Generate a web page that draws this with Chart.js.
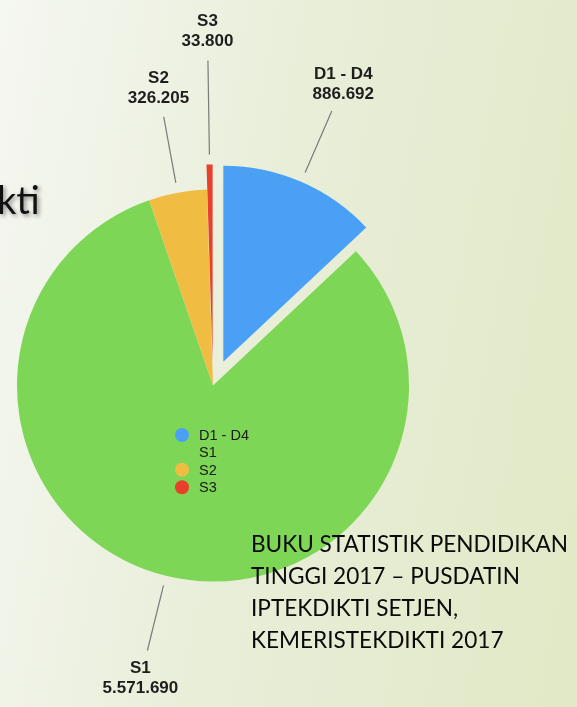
<!DOCTYPE html>
<html>
<head>
<meta charset="utf-8">
<script src="https://cdn.jsdelivr.net/npm/chart.js@4.4.1/dist/chart.umd.min.js"></script>
<style>
  html, body { margin: 0; padding: 0; }
  body {
    width: 577px; height: 707px; overflow: hidden; position: relative;
    background: linear-gradient(100deg, #f5f7f1 0%, #e9eed9 45%, #e1e9c6 100%);
  }
  #chart { position: absolute; left: 0; top: 0; }
  .title-cut {
    position: absolute; left: -3px; top: 180px;
    font: 38px Lato, sans-serif; line-height: 38px; color: #111;
    text-shadow: 2px 2px 4px rgba(0, 0, 0, 0.45);
  }
  .source {
    position: absolute; left: 251px; top: 528px;
    font: 22.6px Lato, sans-serif; line-height: 32px; color: #0a0a0a;
    white-space: nowrap;
  }
</style>
</head>
<body>
<canvas id="chart" width="577" height="707"></canvas>
<div class="title-cut">kti</div>
<div class="source">BUKU STATISTIK PENDIDIKAN<br>TINGGI 2017 – PUSDATIN<br>IPTEKDIKTI SETJEN,<br>KEMERISTEKDIKTI 2017</div>

<script>
// --- data: lulusan per jenjang ---
const LEVELS = ['D1 - D4', 'S1', 'S2', 'S3'];
const GRADUATES = [886692, 5571690, 326205, 33800];

// --- styling ---
const COLORS = ['#4aa0f5', '#7ed656', '#f0bd42', '#e8402b'];
const EXPLODE = [26, 0, 0, 25];      // px pulled out of the pie
const LABEL_PUSH = [0, 0, 0, 27];    // extra callout length so S3 clears S2

const fmt = v => String(v).replace(/\B(?=(\d{3})+(?!\d))/g, '.');

// shift exploded slices straight out along their mid angle
const explodePlugin = {
  id: 'explode',
  beforeDatasetDraw(chart, args) {
    args.meta.data.forEach((arc, i) => {
      if (arc._exploded || !EXPLODE[i]) return;
      const draw = arc.draw;
      arc.draw = function (ctx, area) {
        const mid = (this.startAngle + this.endAngle) / 2;
        ctx.save();
        ctx.translate(Math.cos(mid) * EXPLODE[i], Math.sin(mid) * EXPLODE[i]);
        draw.call(this, ctx, area);
        ctx.restore();
      };
      arc._exploded = true;
    });
  }
};

// leader lines + "name / value" labels outside each slice
const calloutPlugin = {
  id: 'callouts',
  afterDatasetsDraw(chart) {
    const ctx = chart.ctx;
    const meta = chart.getDatasetMeta(0);
    ctx.save();
    meta.data.forEach((arc, i) => {
      const { x, y, startAngle, endAngle, outerRadius } =
        arc.getProps(['x', 'y', 'startAngle', 'endAngle', 'outerRadius'], true);
      const mid = (startAngle + endAngle) / 2;
      const ux = Math.cos(mid), uy = Math.sin(mid);
      const cx = x + ux * EXPLODE[i], cy = y + uy * EXPLODE[i];
      const r0 = outerRadius + 10;
      const r1 = outerRadius + 77 + LABEL_PUSH[i];
      const r2 = outerRadius + 106 + LABEL_PUSH[i];

      ctx.strokeStyle = '#7a7a7a';
      ctx.lineWidth = 1.2;
      ctx.beginPath();
      ctx.moveTo(cx + ux * r0, cy + uy * r0);
      ctx.lineTo(cx + ux * r1, cy + uy * r1);
      ctx.stroke();

      const lx = cx + ux * r2, ly = cy + uy * r2;
      ctx.fillStyle = '#1e1e1e';
      ctx.font = 'bold 17px "Liberation Sans", Arial, sans-serif';
      ctx.textAlign = 'center';
      ctx.textBaseline = 'middle';
      ctx.fillText(LEVELS[i], lx, ly - 10);
      ctx.fillText(fmt(GRADUATES[i]), lx, ly + 10);
    });
    ctx.restore();
  }
};

// small legend drawn inside the pie
const innerLegendPlugin = {
  id: 'innerLegend',
  afterDatasetsDraw(chart) {
    const ctx = chart.ctx;
    const arc = chart.getDatasetMeta(0).data[0];
    const ox = arc.x - 31, oy = arc.y + 49.5;
    ctx.save();
    ctx.font = '14.5px "Liberation Sans", Arial, sans-serif';
    ctx.textAlign = 'left';
    ctx.textBaseline = 'middle';
    LEVELS.forEach((name, i) => {
      const yy = oy + i * 17.4;
      ctx.fillStyle = COLORS[i];
      ctx.beginPath();
      ctx.arc(ox, yy, 7, 0, Math.PI * 2);
      ctx.fill();
      ctx.fillStyle = '#1a1a1a';
      ctx.fillText(name, ox + 17, yy + 1);
    });
    ctx.restore();
  }
};

new Chart(document.getElementById('chart'), {
  type: 'pie',
  data: {
    labels: LEVELS,
    datasets: [{
      data: GRADUATES,
      backgroundColor: COLORS,
      borderWidth: 0
    }]
  },
  options: {
    responsive: false,
    devicePixelRatio: 1,
    animation: false,
    radius: 196,
    layout: { padding: { left: 0, right: 151, top: 64, bottom: 0 } },
    plugins: {
      legend: { display: false },
      tooltip: { enabled: false }
    }
  },
  plugins: [explodePlugin, calloutPlugin, innerLegendPlugin]
});
</script>
</body>
</html>
